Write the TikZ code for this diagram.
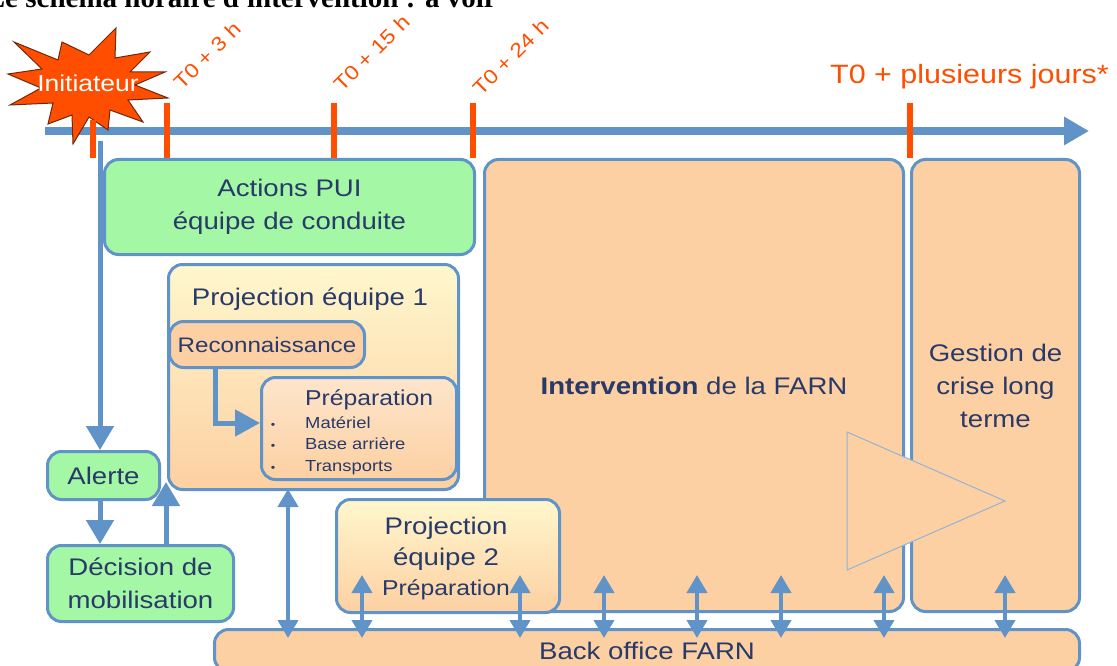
\documentclass[tikz,border=0pt]{standalone}
\usepackage{fontspec}
\setmainfont{Liberation Sans}[FakeStretch=1.15]
\newfontfamily\titlefont{Liberation Serif}
\usetikzlibrary{arrows.meta,positioning}

\definecolor{lineblue}{RGB}{96,148,201}
\definecolor{tickred}{RGB}{255,78,0}
\definecolor{boxgreen}{RGB}{164,247,164}
\definecolor{peach}{RGB}{252,208,162}
\definecolor{paleyellow}{RGB}{255,247,205}
\definecolor{textblue}{RGB}{40,58,105}
\definecolor{stardark}{RGB}{110,40,15}

\begin{document}
\begin{tikzpicture}[x=1pt, y=-1pt,
    box/.style = {draw=lineblue, line width=3pt, rounded corners=14pt, text=textblue,
        font=\fontsize{24}{33}\selectfont, align=center, anchor=north west, inner sep=0pt},
    greenbox/.style = {box, fill=boxgreen},
    peachbox/.style = {box, fill=peach},
    fadebox/.style = {box, top color=paleyellow, bottom color=peach},
    words/.style = {text=textblue, inner sep=0pt},
    tick/.style = {tickred, line width=6pt},
    timelabel/.style = {text=tickred, font=\fontsize{20}{22}\selectfont, rotate=45, anchor=base west, inner sep=0pt},
    flow/.style = {lineblue, line width=5pt, -{Triangle[width=27pt,length=24pt]}},
    link/.style = {lineblue, line width=4pt, {Triangle[width=20pt,length=18pt]}-{Triangle[width=20pt,length=18pt]}}]
    \useasboundingbox (0,0) rectangle (1117,666);
    \clip (0,0) rectangle (1117,666);
    \fill[white] (0,0) rectangle (1117,666);

    \node[font=\titlefont\bfseries\fontsize{29}{32}\selectfont, anchor=base east, inner sep=0pt] (title) at (497,8) {Le schéma horaire d'intervention : à voir};

    \coordinate (tstart) at (45,131);
    \coordinate (tend) at (1089,131);
    \draw[lineblue, line width=8pt, -{Triangle[width=27pt,length=25pt]}] (tstart) -- (tend);

    \draw[fill=tickred, draw=stardark, line width=1pt, line join=miter]
        (116,28) -- (115,58) -- (150,52) -- (130,72) -- (165,72) -- (135,85) -- (168,98) -- (128,100)
        -- (143,122) -- (110,110) -- (108,130) -- (89,117) -- (73,144) -- (72,115) -- (48,124) -- (53,103)
        -- (10,105) -- (41,88) -- (8,74) -- (42,69) -- (14,42) -- (58,60) -- (62,42) -- (89,55) -- cycle;
    \node[text=white, font=\fontsize{23}{26}\selectfont, inner sep=0pt] (init) at (88,83) {Initiateur};

    \foreach \x/\ytop in {93/120, 167/103, 334/103, 473/103, 910/103}
        \draw[tick] (\x,\ytop) -- (\x,158);

    \node[timelabel] (t3) at (182,91) {T0 + 3 h};
    \node[timelabel] (t15) at (342,93) {T0 + 15 h};
    \node[timelabel] (t24) at (481,97) {T0 + 24 h};
    \node[text=tickred, font=\fontsize{26.5}{30}\selectfont, anchor=base west, inner sep=0pt] (tdays) at (830,84) {T0 + plusieurs jours*};

    \node[greenbox, minimum width=370pt, minimum height=95pt] (pui) at (103,158) {Actions PUI\\équipe de conduite};
    \node[peachbox, minimum width=419pt, minimum height=452pt] (farn) at (483,158) {\textbf{Intervention} de la FARN};
    \node[peachbox, minimum width=168pt, minimum height=452pt] (crise) at (910,158) {Gestion de\\crise long\\terme};

    \node[fadebox, minimum width=290pt, minimum height=225pt] (p1) at (167,263) {};
    \node[words, font=\fontsize{24}{33}\selectfont, anchor=base] (p1t) at (310,305) {Projection équipe 1};
    \node[peachbox, minimum width=195pt, minimum height=46pt, font=\fontsize{21}{24}\selectfont] (recon) at (168,320) {Reconnaissance};
    \node[box, top color=peach!55!white, bottom color=peach, minimum width=195pt, minimum height=102pt] (prep) at (260,376) {};
    \node[words, font=\fontsize{21.5}{24}\selectfont, anchor=base west] (prept) at (305,405) {Préparation};
    \foreach \name/\txt/\y in {mat/Matériel/428, base/Base arrière/449, trans/Transports/471} {
        \node[words, font=\fontsize{16}{18}\selectfont, anchor=base west] (\name) at (305,\y) {\txt};
        \node[words, font=\fontsize{11}{12}\selectfont, anchor=base] (\name dot) at (273,\y) {•};
    }
    \coordinate (bend) at (215,423);
    \draw[flow, -{Triangle[width=26pt,length=25pt]}] (recon.south -| bend) -- (bend) -- (bend -| prep.west);

    \node[greenbox, minimum width=112pt, minimum height=48pt] (alerte) at (46,450) {Alerte};
    \node[greenbox, minimum width=186pt, minimum height=76pt] (decision) at (46,544) {Décision de\\mobilisation};

    \node[fadebox, minimum width=223pt, minimum height=113pt] (p2) at (335,498) {};
    \node[words, font=\fontsize{24}{31}\selectfont, align=center] (p2t) at (446,544) {Projection\\équipe 2};
    \node[words, font=\fontsize{21.5}{24}\selectfont, anchor=base] (p2p) at (446,595) {Préparation};

    \node[peachbox, minimum width=865pt, minimum height=42pt] (office) at (213,628) {Back office FARN};

    \draw[lineblue!70, line width=1pt, fill=peach] (847,432) -- (847,570) -- (1005,501) -- cycle;

    \coordinate (drop) at (100,141);
    \coordinate (back) at (166,482);
    \draw[flow] (drop) -- (drop |- alerte.north);
    \draw[flow] (alerte.south -| drop) -- (decision.north -| drop);
    \draw[flow] (decision.north -| back) -- (back);

    \coordinate (k0) at (288,489);
    \draw[link] (k0) -- ([yshift=-10pt]office.north -| k0);
    \foreach \x [count=\i] in {362, 520, 604, 697, 781, 884, 1005} {
        \coordinate (k\i) at (\x,575);
        \draw[link] (k\i) -- ([yshift=-10pt]office.north -| k\i);
    }
\end{tikzpicture}
\end{document}
